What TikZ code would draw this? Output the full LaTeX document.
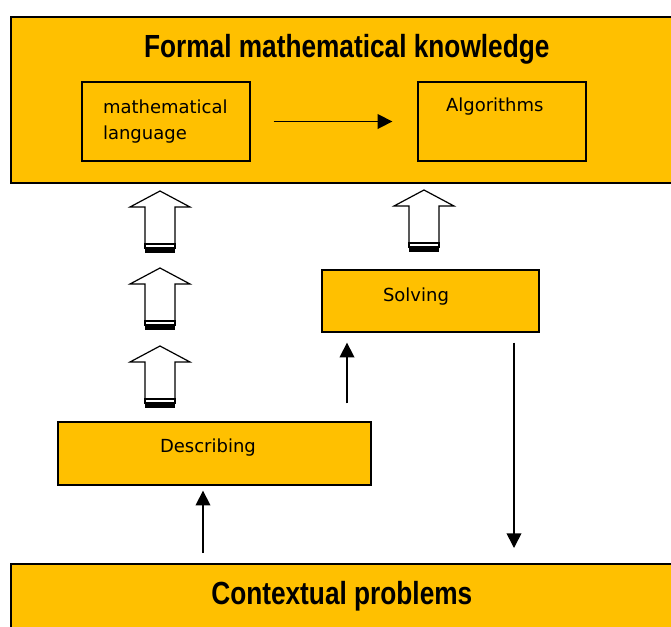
\documentclass[tikz,border=0pt]{standalone}
\usepackage{fontspec}
\setmainfont{DejaVu Sans}
\newfontfamily\headfont[FakeStretch=0.82,BoldFeatures={FakeStretch=0.82}]{Liberation Sans}
\usetikzlibrary{arrows.meta}
\definecolor{boxyellow}{RGB}{255,192,0}

\begin{document}
\begin{tikzpicture}[x=0.75pt,y=-0.75pt,
    bigbox/.style={draw=black,fill=boxyellow,line width=1.2pt,inner sep=0pt,
      minimum width=504pt,anchor=north west,
      font=\headfont\bfseries\fontsize{24}{28}\selectfont},
    smallbox/.style={draw=black,fill=boxyellow,line width=1pt,inner ysep=0pt,
      align=left,font=\fontsize{13.5}{19.5}\selectfont},
    link/.style={line width=1.2pt,-{Triangle[length=11pt,width=11pt]}},
    fatup/.pic={
      \draw[line width=0.9pt,fill=white] (0,0) -- (30,16) -- (15,16) -- (15,53)
        -- (-15,53) -- (-15,16) -- (-30,16) -- cycle;
      \draw[line width=0.9pt,fill=white] (-15,53) rectangle (15,57);
      \fill (-15.45,57) rectangle (15.45,61.5);
    }]
    \useasboundingbox (0,0) rectangle (671,626);
    % upper level
    \node[bigbox,text height=30.75pt,text depth=93.75pt] (formal) at (10,16)
      {Formal mathematical knowledge};
    \node[smallbox,text width=94.5pt,inner xsep=15.75pt,minimum height=59.25pt]
      (mathlang) at (166,121.5) {mathematical\\language};
    \node[smallbox,text width=84pt,inner xsep=21pt,text height=22.125pt,
      text depth=37.125pt] (algo) at (502,121.5) {Algorithms};
    % middle
    \node[smallbox,text width=71.25pt,inner xsep=45.75pt,text height=23.25pt,
      text depth=23.25pt] (solve) at (430.5,301) {Solving};
    \node[smallbox,text width=81.75pt,inner xsep=76.5pt,text height=22.5pt,
      text depth=24.75pt] (desc) at (214.5,453.5) {Describing};
    % lower level
    \node[bigbox,text height=30.75pt,text depth=34.5pt] (context) at (10,563)
      {\hspace*{-7.5pt}Contextual problems};

    \coordinate (xa) at (347,0);
    \coordinate (xb) at (203,0);
    \coordinate (xc) at (514,0);
    \draw[link,shorten <=17.25pt,shorten >=18.75pt] (mathlang) -- (algo);
    \draw[link,shorten <=13.5pt,shorten >=7.5pt] (desc.north -| xa) -- (solve.south -| xa);
    \draw[link,shorten <=7.5pt,shorten >=3.75pt] (context.north -| xb) -- (desc.south -| xb);
    \draw[link,shorten <=7.5pt,shorten >=11.25pt] (solve.south -| xc) -- (context.north -| xc);

    % big arrows
    \foreach \ty in {191,268,346}
      \pic at (160,\ty) {fatup};
    \pic at (424,190) {fatup};
\end{tikzpicture}
\end{document}
